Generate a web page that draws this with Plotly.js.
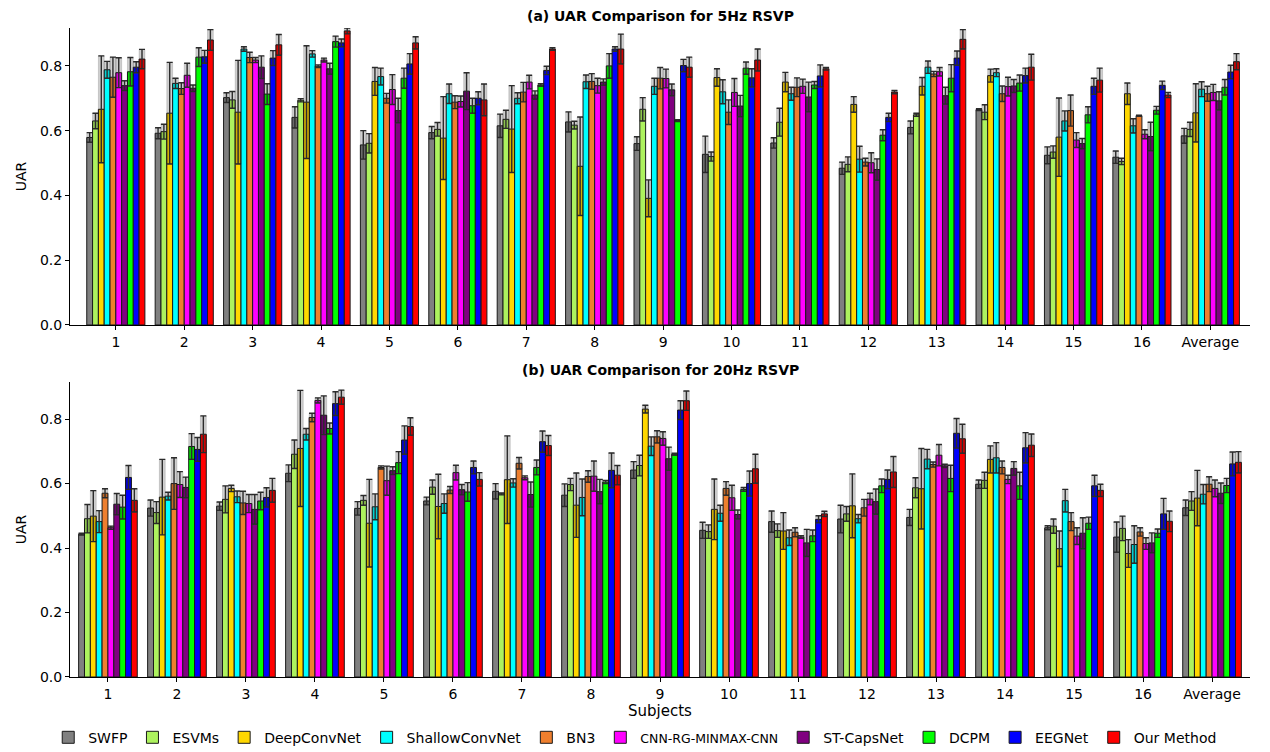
<!DOCTYPE html>
<html>
<head>
<meta charset="utf-8">
<script src="https://cdn.plot.ly/plotly-3.0.1.min.js"></script>
<style>html,body{margin:0;padding:0;background:#fff;}#chart{width:1270px;height:752px;}</style>
</head>
<body>
<div id="chart"></div>
<script>
const subjects = ['1','2','3','4','5','6','7','8','9','10','11','12','13','14','15','16','Average'];
const methods = ['SWFP','ESVMs','DeepConvNet','ShallowConvNet','BN3','CNN-RG-MINMAX-CNN','ST-CapsNet','DCPM','EEGNet','Our Method'];

// (a) 5Hz RSVP — mean UAR per method
const swfp5    = [0.579,0.592,0.702,0.641,0.556,0.594,0.615,0.627,0.560,0.527,0.562,0.484,0.610,0.665,0.524,0.518,0.584];
const esvms5   = [0.630,0.597,0.695,0.694,0.561,0.604,0.635,0.617,0.666,0.520,0.626,0.496,0.649,0.657,0.534,0.505,0.604];
const deep5    = [0.666,0.654,0.657,0.688,0.752,0.577,0.605,0.490,0.391,0.764,0.750,0.681,0.737,0.770,0.580,0.714,0.655];
const shallow5 = [0.788,0.746,0.852,0.837,0.767,0.714,0.700,0.751,0.737,0.720,0.714,0.512,0.796,0.779,0.630,0.615,0.728];
const bn35     = [0.765,0.730,0.826,0.799,0.700,0.688,0.719,0.752,0.762,0.657,0.734,0.503,0.775,0.714,0.662,0.646,0.714];
const cnnrg5   = [0.779,0.771,0.818,0.818,0.727,0.690,0.750,0.739,0.761,0.718,0.737,0.501,0.782,0.736,0.571,0.589,0.718];
const stcaps5  = [0.739,0.731,0.796,0.791,0.662,0.722,0.710,0.750,0.726,0.676,0.704,0.480,0.708,0.738,0.560,0.582,0.692];
const dcpm5    = [0.782,0.827,0.713,0.875,0.762,0.677,0.741,0.800,0.631,0.793,0.741,0.586,0.762,0.747,0.649,0.663,0.734];
const eegnet5  = [0.796,0.828,0.824,0.871,0.806,0.700,0.786,0.852,0.801,0.763,0.769,0.641,0.824,0.770,0.737,0.740,0.781];
const ours5    = [0.821,0.880,0.865,0.908,0.871,0.695,0.852,0.852,0.796,0.818,0.791,0.719,0.882,0.796,0.756,0.710,0.813];
// (a) 5Hz RSVP — standard deviation
const swfp5Err    = [0.015,0.017,0.015,0.033,0.044,0.019,0.036,0.031,0.021,0.056,0.016,0.019,0.020,0.003,0.026,0.019,0.023];
const esvms5Err   = [0.024,0.023,0.026,0.005,0.030,0.021,0.028,0.012,0.036,0.014,0.043,0.023,0.005,0.023,0.019,0.010,0.022];
const deep5Err    = [0.165,0.157,0.160,0.174,0.043,0.128,0.134,0.152,0.057,0.027,0.030,0.024,0.027,0.020,0.121,0.033,0.090];
const shallow5Err = [0.026,0.016,0.007,0.010,0.026,0.030,0.017,0.021,0.025,0.037,0.020,0.040,0.019,0.012,0.031,0.022,0.023];
const bn35Err     = [0.062,0.018,0.016,0.004,0.015,0.020,0.030,0.024,0.033,0.038,0.029,0.012,0.008,0.024,0.048,0.002,0.023];
const cnnrg5Err   = [0.046,0.037,0.008,0.006,0.046,0.017,0.021,0.023,0.029,0.043,0.022,0.031,0.013,0.029,0.023,0.014,0.025];
const stcaps5Err  = [0.015,0.010,0.035,0.017,0.038,0.057,0.013,0.010,0.018,0.033,0.046,0.033,0.026,0.020,0.016,0.044,0.028];
const dcpm5Err    = [0.044,0.029,0.032,0.017,0.031,0.023,0.004,0.038,0.003,0.019,0.011,0.017,0.042,0.025,0.025,0.012,0.024];
const eegnet5Err  = [0.017,0.020,0.023,0.012,0.032,0.020,0.013,0.007,0.019,0.028,0.034,0.013,0.022,0.023,0.025,0.013,0.021];
const ours5Err    = [0.030,0.032,0.032,0.009,0.019,0.049,0.004,0.046,0.031,0.034,0.004,0.005,0.030,0.040,0.037,0.008,0.025];

// (b) 20Hz RSVP — mean UAR per method
const swfp20    = [0.443,0.524,0.530,0.632,0.523,0.546,0.576,0.564,0.642,0.455,0.482,0.490,0.495,0.598,0.463,0.434,0.525];
const esvms20   = [0.491,0.510,0.551,0.691,0.548,0.589,0.568,0.597,0.656,0.451,0.454,0.506,0.587,0.610,0.468,0.461,0.546];
const deep20    = [0.499,0.558,0.585,0.709,0.477,0.529,0.612,0.533,0.831,0.520,0.453,0.531,0.584,0.675,0.398,0.383,0.555];
const shallow20 = [0.482,0.561,0.559,0.753,0.528,0.538,0.602,0.557,0.716,0.508,0.432,0.491,0.676,0.680,0.547,0.411,0.567];
const bn320     = [0.570,0.600,0.540,0.805,0.650,0.580,0.663,0.622,0.745,0.585,0.449,0.525,0.659,0.650,0.482,0.450,0.598];
const cnnrg20   = [0.463,0.597,0.538,0.858,0.609,0.634,0.618,0.623,0.740,0.556,0.434,0.552,0.688,0.613,0.437,0.414,0.585];
const stcaps20  = [0.536,0.588,0.520,0.812,0.640,0.581,0.566,0.575,0.677,0.504,0.416,0.544,0.655,0.647,0.446,0.416,0.570];
const dcpm20    = [0.527,0.715,0.546,0.771,0.665,0.574,0.650,0.605,0.691,0.582,0.438,0.593,0.616,0.593,0.477,0.446,0.594];
const eegnet20  = [0.619,0.706,0.557,0.848,0.735,0.650,0.730,0.641,0.828,0.600,0.489,0.613,0.756,0.711,0.593,0.506,0.661];
const ours20    = [0.548,0.753,0.579,0.868,0.777,0.613,0.718,0.626,0.857,0.646,0.506,0.636,0.739,0.719,0.579,0.483,0.666];
// (b) 20Hz RSVP — standard deviation
const swfp20Err    = [0.003,0.025,0.013,0.026,0.021,0.012,0.024,0.035,0.026,0.025,0.033,0.043,0.025,0.013,0.006,0.047,0.024];
const esvms20Err   = [0.044,0.034,0.042,0.044,0.015,0.022,0.003,0.019,0.032,0.021,0.021,0.023,0.031,0.025,0.022,0.038,0.029];
const deep20Err    = [0.079,0.117,0.010,0.180,0.136,0.100,0.136,0.100,0.012,0.094,0.057,0.099,0.125,0.042,0.055,0.043,0.086];
const shallow20Err = [0.034,0.012,0.018,0.018,0.040,0.030,0.013,0.057,0.029,0.025,0.024,0.013,0.030,0.047,0.035,0.058,0.030];
const bn320Err     = [0.014,0.080,0.036,0.013,0.005,0.011,0.018,0.018,0.019,0.021,0.014,0.026,0.008,0.020,0.028,0.013,0.023];
const cnnrg20Err   = [0.005,0.040,0.028,0.008,0.045,0.023,0.006,0.047,0.021,0.039,0.004,0.018,0.033,0.013,0.026,0.018,0.026];
const stcaps20Err  = [0.033,0.032,0.046,0.060,0.012,0.016,0.039,0.038,0.036,0.014,0.042,0.039,0.005,0.021,0.048,0.031,0.032];
const dcpm20Err    = [0.037,0.040,0.027,0.017,0.034,0.029,0.023,0.005,0.003,0.006,0.018,0.021,0.041,0.042,0.019,0.013,0.022];
const eegnet20Err  = [0.037,0.037,0.030,0.037,0.044,0.020,0.033,0.054,0.029,0.039,0.011,0.029,0.046,0.047,0.033,0.048,0.037];
const ours20Err    = [0.036,0.057,0.037,0.022,0.027,0.021,0.031,0.030,0.030,0.045,0.008,0.048,0.045,0.035,0.019,0.032,0.033];

const vals5  = [swfp5, esvms5, deep5, shallow5, bn35, cnnrg5, stcaps5, dcpm5, eegnet5, ours5];
const errs5  = [swfp5Err, esvms5Err, deep5Err, shallow5Err, bn35Err, cnnrg5Err, stcaps5Err, dcpm5Err, eegnet5Err, ours5Err];
const vals20 = [swfp20, esvms20, deep20, shallow20, bn320, cnnrg20, stcaps20, dcpm20, eegnet20, ours20];
const errs20 = [swfp20Err, esvms20Err, deep20Err, shallow20Err, bn320Err, cnnrg20Err, stcaps20Err, dcpm20Err, eegnet20Err, ours20Err];

const colors = ['#808080','#ADF25E','#FFD700','#00FFFF','#EE7F2E','#FF00FF','#800080','#00FF00','#0000FF','#FF0000'];
const FONT = 'DejaVu Sans, Arial, sans-serif';

const traces = [];
function addPanel(vals, errs, xa, ya, showLegend) {
  const mains = [], bands = [];
  vals.forEach((v, i) => {
    const name = methods[i] === 'CNN-RG-MINMAX-CNN'
      ? '<span style="font-size:12.5px">CNN-RG-MINMAX-CNN</span>' : methods[i];
    mains.push({
      type: 'bar', x: subjects, y: v, name: name, xaxis: xa, yaxis: ya,
      offsetgroup: 'g' + i, alignmentgroup: ya, legendgroup: 'm' + i,
      showlegend: showLegend,
      marker: {color: colors[i], line: {color: '#1a1a1a', width: 1}},
      error_y: {type: 'data', array: errs[i], visible: true, color: '#333333', thickness: 1.4, width: 3},
      hoverinfo: 'x+y+name'
    });
    bands.push({
      type: 'bar', x: subjects, y: errs[i].map(e => 2 * e), base: v.map((m, k) => m - errs[i][k]),
      xaxis: xa, yaxis: ya, offsetgroup: 'g' + i, alignmentgroup: ya, legendgroup: 'm' + i,
      showlegend: false, hoverinfo: 'skip',
      marker: {color: 'rgba(20,20,20,0.2)', line: {color: 'rgba(20,20,20,0.3)', width: 0.5}}
    });
  });
  traces.push(...mains, ...bands);
}
addPanel(vals5, errs5, 'x', 'y', true);
addPanel(vals20, errs20, 'x2', 'y2', false);

const axisCommon = {
  showline: true, linecolor: '#000', linewidth: 1, ticks: 'outside', ticklen: 4,
  tickcolor: '#000', showgrid: false, zeroline: false,
  tickfont: {family: FONT, size: 14, color: '#000'}
};

const layout = {
  width: 1270, height: 752,
  paper_bgcolor: '#fff', plot_bgcolor: '#fff',
  margin: {l: 70, r: 20, t: 28, b: 75},
  barmode: 'group', bargap: 0.15, bargroupgap: 0,
  font: {family: FONT, size: 14, color: '#000'},
  xaxis: Object.assign({}, axisCommon, {domain: [0, 1], anchor: 'y', type: 'category', range: [-0.67, 16.58]}),
  yaxis: Object.assign({}, axisCommon, {domain: [0.5424, 1], anchor: 'x', range: [0, 0.917], dtick: 0.2, tickformat: '.1f',
    title: {text: 'UAR', font: {family: FONT, size: 14}, standoff: 10}}),
  xaxis2: Object.assign({}, axisCommon, {domain: [0, 1], anchor: 'y2', type: 'category', range: [-0.55, 16.55]}),
  yaxis2: Object.assign({}, axisCommon, {domain: [0, 0.4545], anchor: 'x2', range: [0, 0.915], dtick: 0.2, tickformat: '.1f',
    title: {text: 'UAR', font: {family: FONT, size: 14}, standoff: 10}}),
  annotations: [
    {text: '<b>(a) UAR Comparison for 5Hz RSVP</b>', xref: 'paper', yref: 'paper', x: 0.5, y: 1.0, yshift: 12,
     xanchor: 'center', yanchor: 'middle', showarrow: false, font: {family: FONT, size: 14, color: '#000'}},
    {text: '<b>(b) UAR Comparison for 20Hz RSVP</b>', xref: 'paper', yref: 'paper', x: 0.5, y: 0.4545, yshift: 12,
     xanchor: 'center', yanchor: 'middle', showarrow: false, font: {family: FONT, size: 14, color: '#000'}},
    {text: 'Subjects', xref: 'paper', yref: 'paper', x: 0.5, y: -0.0524,
     xanchor: 'center', yanchor: 'middle', showarrow: false, font: {family: FONT, size: 15, color: '#000'}}
  ],
  legend: {orientation: 'h', xref: 'paper', yref: 'container', x: 0.479, xanchor: 'center', y: 0.019, yanchor: 'middle',
    font: {family: FONT, size: 14, color: '#000'}, itemwidth: 30, traceorder: 'normal', tracegroupgap: 0}
};

Plotly.newPlot('chart', traces, layout, {displayModeBar: false, staticPlot: true});
</script>
</body>
</html>
